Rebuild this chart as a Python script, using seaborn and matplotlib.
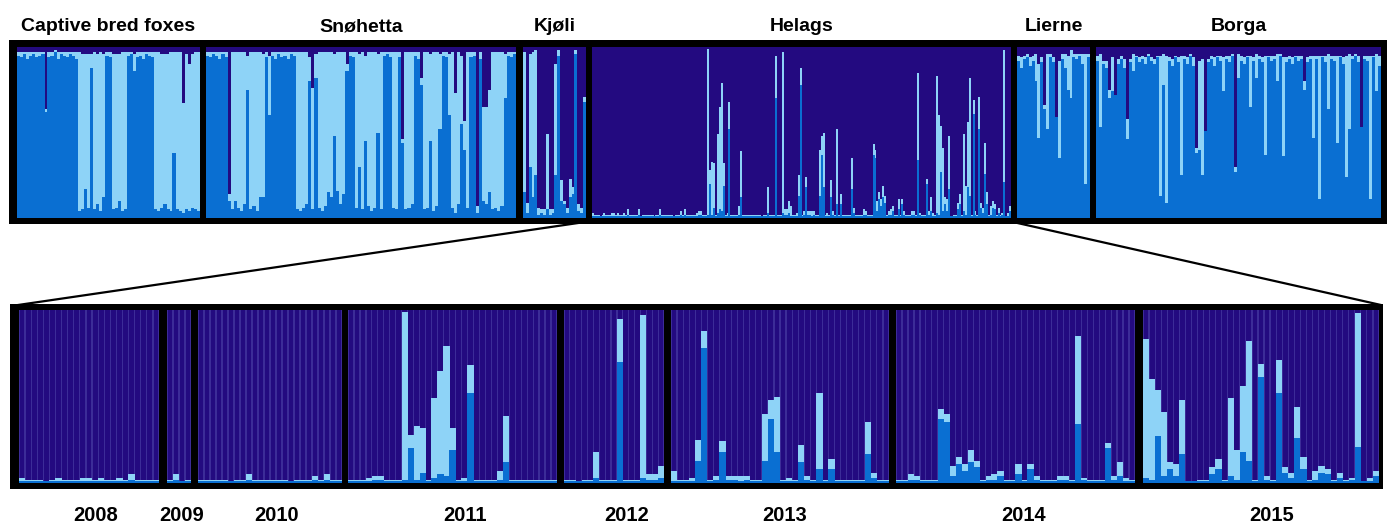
import numpy as np
import pandas as pd
import seaborn as sns
import matplotlib.pyplot as plt
from matplotlib import font_manager
from matplotlib.lines import Line2D

# colori dei cluster
DARK = '#230a80'
MID = '#0a6fd2'
LIGHT = '#8ed3f7'
EDGE = '#3c2c98'

# --- pannello superiore: popolazioni (quota % cluster medio / chiaro, il resto è scuro) ---
pop_names = ['Captive bred foxes', 'Snøhetta', 'Kjøli', 'Helags', 'Lierne', 'Borga']

captive_mid = [95, 94, 96, 93, 95, 96, 94, 95, 96, 62,
               94, 95, 97, 93, 96, 95, 94, 96, 95, 93,
               4, 5, 17, 6, 88, 5, 8, 4, 12, 95,
               94, 5, 6, 10, 4, 5, 95, 96, 86, 94,
               95, 93, 96, 95, 94, 5, 4, 6, 8, 5,
               4, 38, 5, 4, 3, 5, 4, 6, 5, 4]
captive_light = [2, 3, 1, 4, 2, 1, 3, 2, 1, 2,
                 3, 2, 1, 4, 1, 2, 3, 1, 2, 4,
                 93, 91, 79, 90, 8, 92, 88, 93, 84, 2,
                 3, 91, 90, 86, 93, 92, 2, 1, 10, 3,
                 2, 4, 1, 2, 3, 92, 93, 90, 88, 91,
                 93, 59, 92, 93, 64, 91, 86, 90, 92, 93]

snohetta_mid = [95, 94, 96, 95, 93, 96, 94, 10, 5, 10,
                6, 4, 8, 75, 5, 7, 4, 12, 12, 94,
                60, 95, 93, 96, 94, 95, 93, 96, 95, 5,
                4, 6, 8, 80, 5, 82, 6, 4, 7, 15,
                12, 48, 16, 8, 14, 86, 95, 94, 6, 30,
                5, 45, 7, 4, 6, 50, 5, 95, 96, 94,
                6, 5, 94, 44, 5, 6, 8, 95, 93, 78,
                5, 6, 45, 4, 7, 52, 95, 94, 60, 6,
                3, 8, 55, 40, 6, 94, 95, 3, 93, 10,
                8, 15, 5, 6, 4, 7, 70, 95, 94, 96]
snohetta_light = [2, 3, 1, 2, 4, 1, 3, 4, 92, 87,
                  91, 93, 89, 20, 92, 90, 93, 85, 84, 3,
                  35, 2, 4, 1, 3, 2, 4, 1, 2, 92,
                  93, 91, 89, 14, 71, 14, 91, 93, 90, 82,
                  85, 48, 81, 89, 83, 4, 2, 3, 91, 66,
                  92, 50, 90, 93, 91, 46, 92, 2, 1, 3,
                  91, 92, 3, 2, 92, 91, 89, 2, 4, 4,
                  92, 91, 51, 93, 90, 44, 2, 3, 36, 91,
                  70, 89, 40, 17, 91, 3, 2, 4, 4, 55,
                  57, 60, 92, 91, 93, 90, 26, 2, 3, 1]

kjoli_mid = [15, 3, 30, 12, 25, 2, 3, 2, 5, 2, 3, 25, 95, 10, 8, 3, 12, 14, 96, 4, 3, 68]
kjoli_light = [82, 6, 66, 85, 73, 4, 2, 3, 44, 3, 2, 65, 3, 12, 2, 3, 11, 4, 2, 4, 3, 3]

lierne_mid = [92, 88, 93, 94, 89, 92, 80, 47, 91, 64, 52, 94, 91,
              59, 35, 93, 88, 75, 70, 94, 93, 95, 90, 20, 94]
lierne_light = [3, 6, 2, 2, 5, 3, 16, 43, 3, 2, 44, 2, 3,
                0, 57, 3, 8, 20, 28, 2, 3, 1, 6, 76, 2]

borga_mid = [92, 53, 90, 88, 70, 74, 72, 90, 93, 88,
             46, 91, 86, 94, 91, 93, 90, 95, 92, 90,
             94, 13, 78, 9, 92, 89, 94, 91, 25, 93,
             90, 95, 89, 38, 40, 25, 51, 91, 93, 89,
             94, 92, 74, 93, 91, 95, 27, 82, 92, 90,
             94, 65, 92, 82, 93, 91, 37, 94, 92, 93,
             80, 95, 36, 91, 93, 90, 94, 92, 93, 75,
             91, 93, 47, 93, 11, 94, 91, 64, 93, 92,
             44, 94, 90, 24, 52, 93, 95, 91, 53, 93,
             92, 11, 94, 74, 89]
borga_light = [3, 43, 2, 4, 5, 20, 0, 3, 2, 5,
               12, 2, 10, 1, 3, 2, 4, 1, 2, 3,
               1, 82, 18, 86, 2, 4, 1, 3, 70, 2,
               4, 1, 5, 3, 52, 68, 0, 2, 2, 5,
               1, 3, 20, 2, 4, 1, 3, 14, 3, 4,
               1, 30, 2, 14, 2, 3, 58, 1, 3, 2,
               16, 1, 58, 3, 2, 4, 1, 3, 2, 5,
               3, 2, 48, 2, 84, 1, 4, 32, 2, 3,
               51, 1, 4, 71, 44, 2, 1, 4, 0, 2,
               3, 84, 1, 22, 6]

# --- pannello inferiore: Helags per anno ---
years = ['2008', '2009', '2010', '2011', '2012', '2013', '2014', '2015']

h08_mid = [1, 1, 1, 1, 1, 1, 1, 1, 1, 1, 1, 1, 1, 1, 1, 1, 1, 1, 2, 1, 1, 1, 1]
h08_light = [2, 1, 1, 1, 0, 1, 2, 1, 1, 1, 2, 2, 1, 2, 1, 1, 2, 1, 3, 1, 1, 1, 1]

h09_mid = [1, 2, 1, 1]
h09_light = [1, 3, 0, 1]

h10_mid = [1, 1, 1, 1, 1, 1, 1, 1, 2, 1, 1, 1, 1, 1, 1, 1, 1, 1, 1, 2, 1, 2, 1, 1]
h10_light = [1, 1, 1, 1, 1, 0, 1, 1, 3, 1, 1, 1, 1, 1, 1, 0, 1, 1, 1, 2, 1, 3, 1, 1]

h11_mid = [1, 1, 1, 1, 2, 2, 1, 1, 1,
           2, 20, 2, 6, 1, 3, 5, 4, 19,
           1, 1, 52, 1, 1, 1, 1, 2, 12,
           1, 1, 1, 1, 1, 1, 1, 1]
h11_light = [1, 1, 1, 2, 2, 2, 1, 1, 1,
             97, 8, 31, 26, 1, 46, 60, 75, 13,
             1, 2, 16, 1, 1, 1, 1, 5, 27,
             1, 1, 1, 1, 1, 1, 1, 1]

h12_mid = [1, 1, 1, 1, 1, 3, 1, 1, 1, 70, 1, 1, 1, 3, 2, 2, 3]
h12_light = [1, 1, 0, 1, 1, 15, 1, 1, 1, 25, 1, 1, 1, 94, 3, 3, 7]

h13_mid = [1, 1, 1, 1, 13, 78, 1, 2, 18, 2, 2, 1,
           2, 1, 1, 13, 37, 18, 1, 1, 1, 12, 2, 1,
           8, 1, 8, 1, 1, 1, 1, 1, 17, 3, 1, 1]
h13_light = [6, 1, 1, 2, 12, 10, 1, 2, 6, 2, 2, 3,
             2, 1, 1, 27, 11, 32, 1, 2, 1, 10, 2, 1,
             44, 1, 6, 1, 1, 1, 1, 1, 18, 3, 1, 1]

h14_mid = [1, 1, 2, 2, 1, 1, 1, 37, 35, 4,
           11, 7, 12, 9, 1, 2, 2, 4, 1, 1,
           5, 1, 8, 2, 1, 1, 1, 2, 2, 1,
           34, 2, 1, 1, 1, 20, 2, 4, 1, 1]
h14_light = [1, 1, 3, 2, 1, 1, 1, 6, 5, 6,
             4, 4, 7, 4, 1, 2, 3, 3, 1, 1,
             6, 1, 3, 2, 1, 1, 1, 2, 2, 1,
             51, 1, 1, 1, 1, 3, 2, 8, 2, 1]

h15_mid = [3, 2, 27, 4, 8, 4, 17, 1, 1, 1,
           1, 5, 8, 1, 4, 2, 18, 13, 1, 61,
           2, 1, 52, 6, 3, 26, 8, 1, 2, 6,
           5, 1, 3, 1, 2, 21, 1, 1, 4]
h15_light = [80, 58, 27, 37, 4, 7, 31, 0, 0, 1,
             1, 4, 6, 1, 45, 17, 38, 69, 1, 8,
             2, 1, 19, 3, 3, 18, 7, 1, 5, 4,
             3, 1, 3, 1, 1, 77, 0, 2, 3]

year_mid = [h08_mid, h09_mid, h10_mid, h11_mid, h12_mid, h13_mid, h14_mid, h15_mid]
year_light = [h08_light, h09_light, h10_light, h11_light, h12_light, h13_light, h14_light, h15_light]

helags_mid = sum(year_mid, [])
helags_light = sum(year_light, [])

pop_mid = [captive_mid, snohetta_mid, kjoli_mid, helags_mid, lierne_mid, borga_mid]
pop_light = [captive_light, snohetta_light, kjoli_light, helags_light, lierne_light, borga_light]

# --- impaginazione in pixel (figura 1390x526) ---
W, H = 1390, 526
top_outer = (9, 40, 1387, 224)
top_inner_y = (47, 218)
pop_x = [(17, 200), (206, 516), (523, 586), (592, 1011), (1017, 1090), (1096, 1381)]

bot_outer = (10, 304, 1383, 489)
bot_inner_y = (310, 483)
year_x = [(19, 159), (167, 191), (198, 342), (348, 557), (564, 664), (671, 889), (896, 1135), (1143, 1379)]
year_label_x = [96, 182, 277, 465, 627, 785, 1024, 1272]

names = {f.name for f in font_manager.fontManager.ttflist}
if 'Liberation Sans Narrow' in names:
    fam, top_size, year_size = 'Liberation Sans Narrow', 16.5, 17
else:
    fam, top_size, year_size = 'Liberation Sans', 14, 14.5


def box(outer):
    x0, y0, x1, y1 = outer
    return [x0 / W, 1 - y1 / H, (x1 - x0) / W, (y1 - y0) / H]


def make_ax(fig, outer, inner_y):
    ax = fig.add_axes(box(outer))
    ax.set_facecolor('black')
    x0, y0, x1, y1 = outer
    iy0, iy1 = inner_y
    ax.set_xlim(x0, x1)
    ax.set_ylim(-(y1 - iy1) / (iy1 - iy0) * 100, 100 + (iy0 - y0) / (iy1 - iy0) * 100)
    return ax


def draw_group(ax, span, mid, light, gap_px):
    n = len(mid)
    w = (span[1] - span[0]) / n
    df = pd.DataFrame({'pos': span[0] + w * (np.arange(n) + 0.5),
                       'mid': mid, 'light': light})
    df['dark'] = 100
    df['upper'] = df['mid'] + df['light']
    kw = dict(data=df, x='pos', native_scale=True, saturation=1,
              errorbar=None, linewidth=0, orient='x', ax=ax)
    # sottile riga chiara tra le barre, poi cluster scuro, chiaro e medio
    sns.barplot(y='dark', color=EDGE if gap_px else DARK, width=1.04, **kw)
    if gap_px:
        sns.barplot(y='dark', color=DARK, width=1 - gap_px / w, **kw)
    sns.barplot(y='upper', color=LIGHT, width=1.04, **kw)
    sns.barplot(y='mid', color=MID, width=1.04, **kw)


fig = plt.figure(figsize=(W / 100, H / 100), dpi=100)

ax_top = make_ax(fig, top_outer, top_inner_y)
for span, m, l, name in zip(pop_x, pop_mid, pop_light, pop_names):
    draw_group(ax_top, span, m, l, 0)
    fig.text((span[0] + span[1]) / 2 / W, 1 - 31 / H, name, ha='center', va='baseline',
             fontsize=top_size, fontweight='bold', family=fam)

ax_bot = make_ax(fig, bot_outer, bot_inner_y)
for span, m, l, yr, lx in zip(year_x, year_mid, year_light, years, year_label_x):
    draw_group(ax_bot, span, m, l, 1.2)
    fig.text(lx / W, 1 - 521 / H, yr, ha='center', va='baseline',
             fontsize=year_size, fontweight='bold', family=fam)

for ax in (ax_top, ax_bot):
    ax.set_xticks([])
    ax.set_yticks([])
    ax.set_xlabel('')
    ax.set_ylabel('')
    for s in ax.spines.values():
        s.set_visible(False)

# linee di collegamento Helags -> dettaglio per anno
for (xa, ya), (xb, yb) in [((585, 222), (18, 305)), ((1013, 222), (1381, 305))]:
    fig.add_artist(Line2D([xa / W, xb / W], [1 - ya / H, 1 - yb / H],
                          transform=fig.transFigure, color='black', linewidth=1.6, zorder=0))

plt.savefig('out.png', dpi=100)
